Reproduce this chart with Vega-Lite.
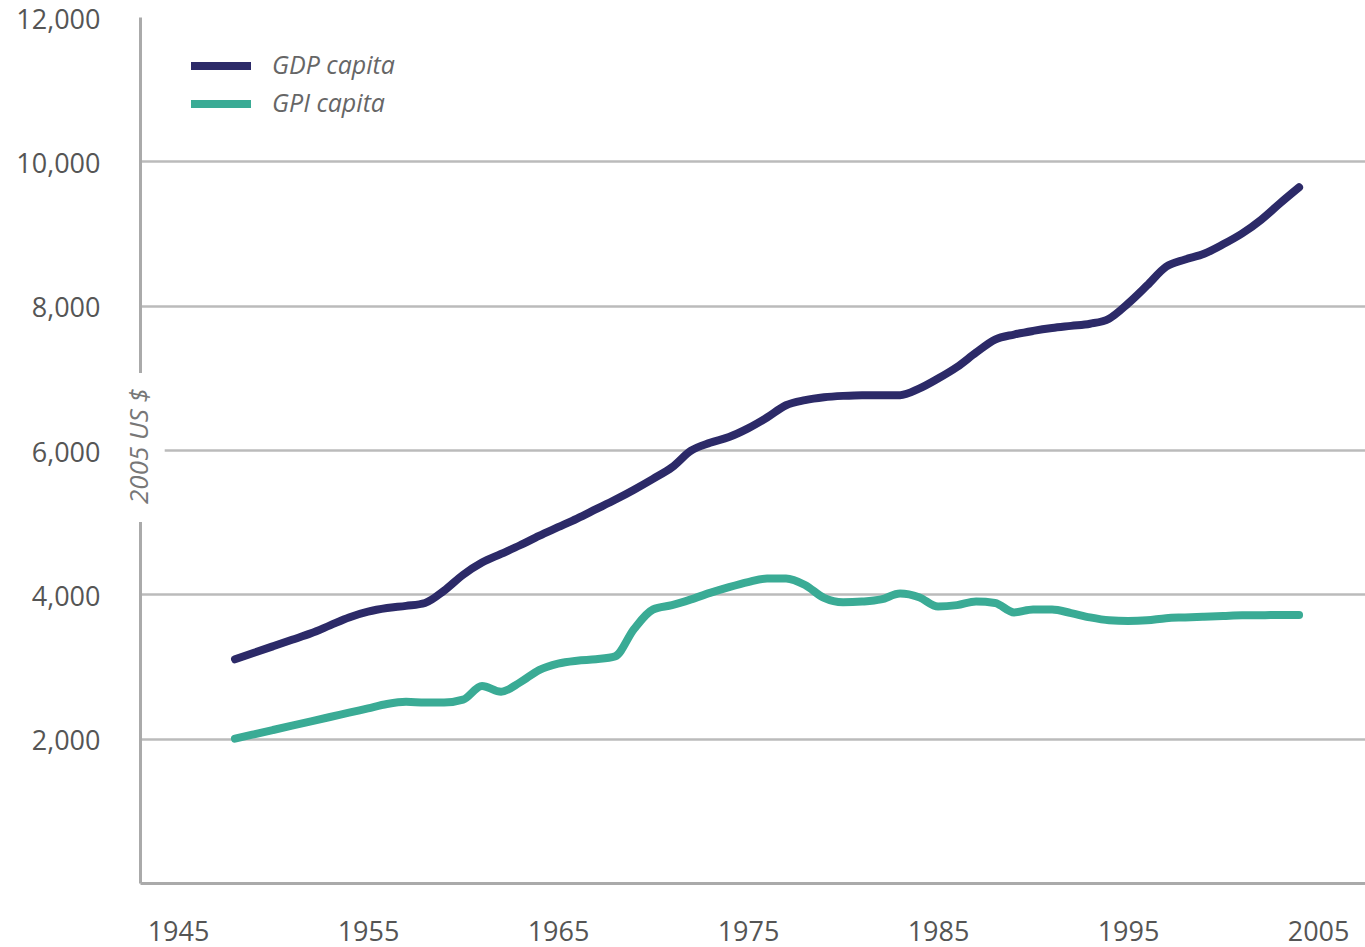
{
  "$schema": "https://vega.github.io/schema/vega-lite/v6.json",
  "width": 1225,
  "height": 866,
  "autosize": "none",
  "padding": {"left": 140, "top": 17, "right": 0, "bottom": 64},
  "background": "white",
  "config": {
    "view": {"stroke": null},
    "font": "Open Sans",
    "axis": {"labelFont": "Open Sans", "labelFontSize": 27, "labelColor": "#555555", "ticks": false, "domainColor": "#aaaaaa", "domainWidth": 3, "gridColor": "#bbbbbb", "gridWidth": 2.5, "title": null}
  },
  "datasets": {
    "series": [
      {"year": 1948, "GDP capita": 3100, "GPI capita": 2000},
      {"year": 1949, "GDP capita": 3190, "GPI capita": 2060},
      {"year": 1950, "GDP capita": 3280, "GPI capita": 2120},
      {"year": 1951, "GDP capita": 3370, "GPI capita": 2180},
      {"year": 1952, "GDP capita": 3460, "GPI capita": 2240},
      {"year": 1953, "GDP capita": 3570, "GPI capita": 2300},
      {"year": 1954, "GDP capita": 3680, "GPI capita": 2360},
      {"year": 1955, "GDP capita": 3760, "GPI capita": 2420},
      {"year": 1956, "GDP capita": 3810, "GPI capita": 2480},
      {"year": 1957, "GDP capita": 3840, "GPI capita": 2510},
      {"year": 1958, "GDP capita": 3880, "GPI capita": 2500},
      {"year": 1959, "GDP capita": 4050, "GPI capita": 2500},
      {"year": 1960, "GDP capita": 4270, "GPI capita": 2540},
      {"year": 1961, "GDP capita": 4440, "GPI capita": 2730},
      {"year": 1962, "GDP capita": 4560, "GPI capita": 2650},
      {"year": 1963, "GDP capita": 4680, "GPI capita": 2780},
      {"year": 1964, "GDP capita": 4810, "GPI capita": 2950},
      {"year": 1965, "GDP capita": 4930, "GPI capita": 3040},
      {"year": 1966, "GDP capita": 5050, "GPI capita": 3080},
      {"year": 1967, "GDP capita": 5180, "GPI capita": 3100},
      {"year": 1968, "GDP capita": 5310, "GPI capita": 3140},
      {"year": 1969, "GDP capita": 5450, "GPI capita": 3520},
      {"year": 1970, "GDP capita": 5600, "GPI capita": 3790},
      {"year": 1971, "GDP capita": 5760, "GPI capita": 3850},
      {"year": 1972, "GDP capita": 5990, "GPI capita": 3930},
      {"year": 1973, "GDP capita": 6100, "GPI capita": 4020},
      {"year": 1974, "GDP capita": 6180, "GPI capita": 4100},
      {"year": 1975, "GDP capita": 6300, "GPI capita": 4170},
      {"year": 1976, "GDP capita": 6450, "GPI capita": 4220},
      {"year": 1977, "GDP capita": 6620, "GPI capita": 4220},
      {"year": 1978, "GDP capita": 6690, "GPI capita": 4130},
      {"year": 1979, "GDP capita": 6730, "GPI capita": 3950},
      {"year": 1980, "GDP capita": 6750, "GPI capita": 3890},
      {"year": 1981, "GDP capita": 6760, "GPI capita": 3900},
      {"year": 1982, "GDP capita": 6760, "GPI capita": 3930},
      {"year": 1983, "GDP capita": 6760, "GPI capita": 4010},
      {"year": 1984, "GDP capita": 6850, "GPI capita": 3960},
      {"year": 1985, "GDP capita": 6990, "GPI capita": 3830},
      {"year": 1986, "GDP capita": 7150, "GPI capita": 3850},
      {"year": 1987, "GDP capita": 7350, "GPI capita": 3900},
      {"year": 1988, "GDP capita": 7530, "GPI capita": 3880},
      {"year": 1989, "GDP capita": 7600, "GPI capita": 3750},
      {"year": 1990, "GDP capita": 7650, "GPI capita": 3790},
      {"year": 1991, "GDP capita": 7690, "GPI capita": 3790},
      {"year": 1992, "GDP capita": 7720, "GPI capita": 3740},
      {"year": 1993, "GDP capita": 7750, "GPI capita": 3680},
      {"year": 1994, "GDP capita": 7820, "GPI capita": 3640},
      {"year": 1995, "GDP capita": 8030, "GPI capita": 3630},
      {"year": 1996, "GDP capita": 8280, "GPI capita": 3640},
      {"year": 1997, "GDP capita": 8540, "GPI capita": 3670},
      {"year": 1998, "GDP capita": 8640, "GPI capita": 3680},
      {"year": 1999, "GDP capita": 8720, "GPI capita": 3690},
      {"year": 2000, "GDP capita": 8850, "GPI capita": 3700},
      {"year": 2001, "GDP capita": 9000, "GPI capita": 3710},
      {"year": 2002, "GDP capita": 9190, "GPI capita": 3710},
      {"year": 2003, "GDP capita": 9420, "GPI capita": 3715},
      {"year": 2004, "GDP capita": 9640, "GPI capita": 3715}
    ]
  },
  "layer": [
    {
      "data": {"name": "series"},
      "transform": [{"fold": ["GDP capita", "GPI capita"], "as": ["series", "value"]}],
      "mark": {"type": "line", "strokeWidth": 8, "interpolate": "monotone", "strokeCap": "round", "strokeJoin": "round"},
      "encoding": {
        "x": {
          "field": "year", "type": "quantitative",
          "scale": {"domain": [1943, 2007.47], "nice": false, "zero": false},
          "axis": {"values": [1945, 1955, 1965, 1975, 1985, 1995, 2005], "format": "d", "grid": false, "labelPadding": 36, "labelFlush": false}
        },
        "y": {
          "field": "value", "type": "quantitative",
          "scale": {"domain": [0, 12000], "nice": false},
          "axis": {"values": [2000, 4000, 6000, 8000, 10000, 12000], "format": ",d", "labelPadding": 40, "labelOffset": 3, "gridOpacity": {"condition": {"test": "datum.value == 12000", "value": 0}, "value": 1}}
        },
        "color": {
          "field": "series", "type": "nominal",
          "scale": {"domain": ["GDP capita", "GPI capita"], "range": ["#2c2a68", "#3aab95"]},
          "legend": {
            "title": null, "orient": "none", "legendX": 47, "legendY": 34,
            "symbolType": "stroke", "symbolSize": 3600, "symbolStrokeWidth": 8,
            "clipHeight": 30, "rowPadding": 8, "padding": 0,
            "labelFont": "Open Sans", "labelFontSize": 25, "labelFontStyle": "italic", "labelColor": "#666666", "labelOffset": 17,
            "labelLimit": 400
          }
        }
      }
    },
    {
      "data": {"values": [{}]},
      "mark": {"type": "rect", "color": "white"},
      "encoding": {
        "x": {"datum": 1942.4, "type": "quantitative"},
        "x2": {"datum": 1944.3},
        "y": {"datum": 7067, "type": "quantitative"},
        "y2": {"datum": 5002}
      }
    },
    {
      "data": {"values": [{}]},
      "mark": {"type": "text", "text": "2005 US $", "angle": 270, "font": "Open Sans", "fontSize": 26, "fontStyle": "italic", "color": "#777777", "align": "center", "baseline": "middle"},
      "encoding": {
        "x": {"datum": 1943, "type": "quantitative"},
        "y": {"datum": 6055, "type": "quantitative"}
      }
    }
  ]
}
